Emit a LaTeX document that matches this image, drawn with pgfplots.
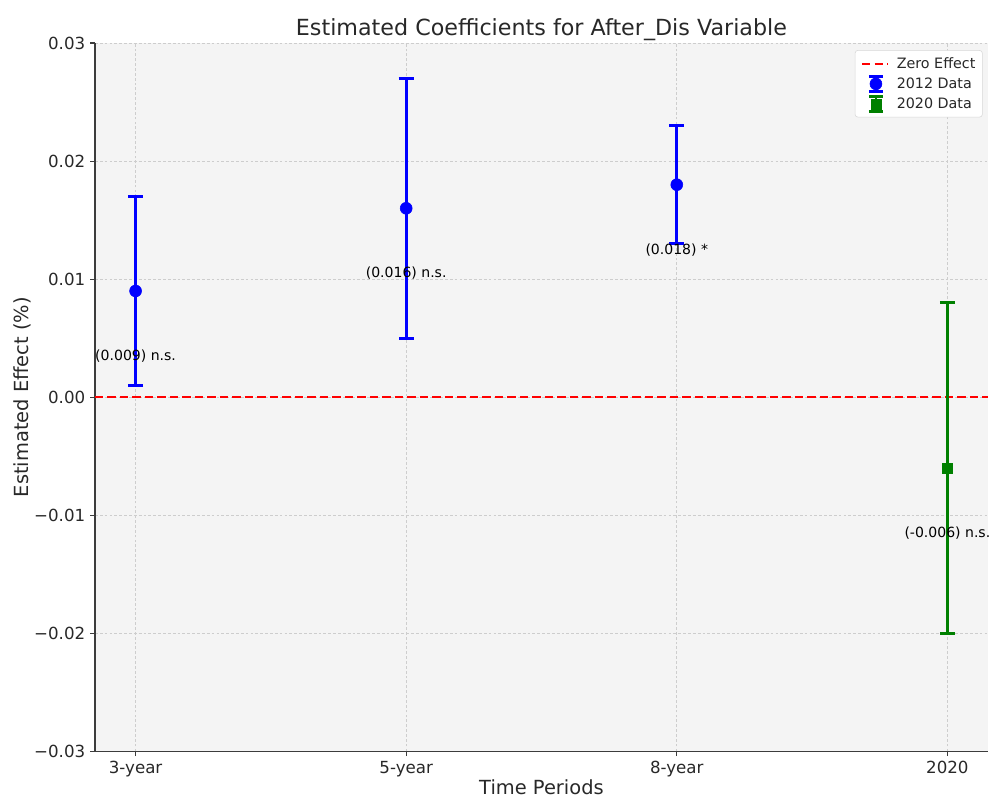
\documentclass[border=0pt]{standalone}
\usepackage{pgfplots}
\pgfplotsset{compat=1.18}
\usepackage{fontspec}
\setmainfont{DejaVu Sans}
\definecolor{bgc}{RGB}{244,244,244}
\definecolor{spine}{RGB}{60,60,60}
\definecolor{txt}{RGB}{40,40,40}
\definecolor{gridc}{RGB}{205,205,205}
\definecolor{legc}{RGB}{215,215,215}
\definecolor{mgreen}{RGB}{0,128,0}
\begin{document}
\begin{tikzpicture}[x=1pt,y=1pt]
\path[use as bounding box] (-68.4,-36.7) rectangle (645.9,541.0);
\begin{axis}[
  at={(0,0)}, anchor=south west,
  scale only axis, width=643pt, height=510pt,
  xmin=-0.15, xmax=3.15, ymin=-0.03, ymax=0.03,
  scaled y ticks=false,
  axis x line*=bottom, axis y line*=left,
  axis line style={spine, line width=1pt},
  tick align=outside, tick style={spine, line width=0.8pt},
  major tick length=3.5pt,
  xtick={0,1,2,3}, xticklabels={3-year,5-year,8-year,2020},
  ytick={-0.03,-0.02,-0.01,0,0.01,0.02,0.03},
  yticklabels={−0.03,−0.02,−0.01,0.00,0.01,0.02,0.03},
  ticklabel style={font=\fontsize{12}{14}\selectfont, text=txt},
  grid=major, grid style={gridc, line width=0.5pt, dash pattern=on 2pt off 1.5pt},
  axis background/.style={fill=bgc},
  title={Estimated Coefficients for After\_Dis Variable},
  title style={font=\fontsize{16}{19}\selectfont, text=txt, yshift=-8pt},
  xlabel={Time Periods}, ylabel={Estimated Effect (\%)},
  label style={font=\fontsize{14}{17}\selectfont, text=txt},
  xlabel style={yshift=5pt},
  ylabel style={yshift=-4.6pt},
  legend style={at={(0.994,0.99)}, anchor=north east, draw=legc, fill=white, rounded corners=2pt, font=\fontsize{10.3}{12}\selectfont, text=txt, row sep=1.2pt, inner sep=3pt},
  legend cell align=left,
  clip=false,
]
\addplot[red, line width=1.6pt, dash pattern=on 6pt off 3pt, forget plot] coordinates {(-0.15,0) (3.15,0)};
\addlegendimage{legend image code/.code={\path[draw=none,fill=none] (-2pt,0pt) -- (23pt,0pt); \draw[red, sharp corners, line width=1.6pt, dash pattern=on 6pt off 3pt] (0pt,0pt) -- (19pt,0pt);}}
\addlegendentry{Zero Effect}
\addlegendimage{legend image code/.code={\path[draw=none,fill=none] (-2pt,0pt) -- (23pt,0pt);
  \draw[blue, sharp corners, line width=2pt] (10pt,-5.5pt) -- (10pt,5.5pt) (5pt,5.5pt) -- (15pt,5.5pt) (5pt,-5.5pt) -- (15pt,-5.5pt);
  \fill[blue] (10pt,0pt) circle (4.3pt);}}
\addlegendentry{2012 Data}
\addlegendimage{legend image code/.code={\path[draw=none,fill=none] (-2pt,0pt) -- (23pt,0pt);
  \draw[mgreen, sharp corners, line width=2pt] (10pt,-5.5pt) -- (10pt,5.5pt) (5pt,5.5pt) -- (15pt,5.5pt) (5pt,-5.5pt) -- (15pt,-5.5pt);
  \fill[mgreen, sharp corners] (6.4pt,-3.6pt) rectangle (13.6pt,3.6pt);}}
\addlegendentry{2020 Data}
\addplot[blue, only marks, mark=*, mark size=4.3pt, forget plot,
  error bars/.cd, y dir=both, y explicit,
  error bar style={line width=2pt, blue},
  error mark options={rotate=90, mark size=5.4pt, line width=2pt, blue}]
  table[x=x, y=y, y error plus=ep, y error minus=em] {
x y ep em
0 0.009 0.008 0.008
1 0.016 0.011 0.011
2 0.018 0.005 0.005
};
\addplot[mgreen, only marks, mark=square*, mark size=3.6pt, forget plot,
  error bars/.cd, y dir=both, y explicit,
  error bar style={line width=2pt, mgreen},
  error mark options={rotate=90, mark size=5.4pt, line width=2pt, mgreen}]
  table[x=x, y=y, y error plus=ep, y error minus=em] {
x y ep em
3 -0.006 0.014 0.014
};
\node[font=\fontsize{10.1}{12}\selectfont, text=black] at (axis cs:0,0.0035) {(0.009) n.s.};
\node[font=\fontsize{10.1}{12}\selectfont, text=black] at (axis cs:1,0.0105) {(0.016) n.s.};
\node[font=\fontsize{10.1}{12}\selectfont, text=black] at (axis cs:2,0.0125) {(0.018) *};
\node[font=\fontsize{10.1}{12}\selectfont, text=black] at (axis cs:3,-0.0115) {(-0.006) n.s.};
\end{axis}
\end{tikzpicture}
\end{document}
